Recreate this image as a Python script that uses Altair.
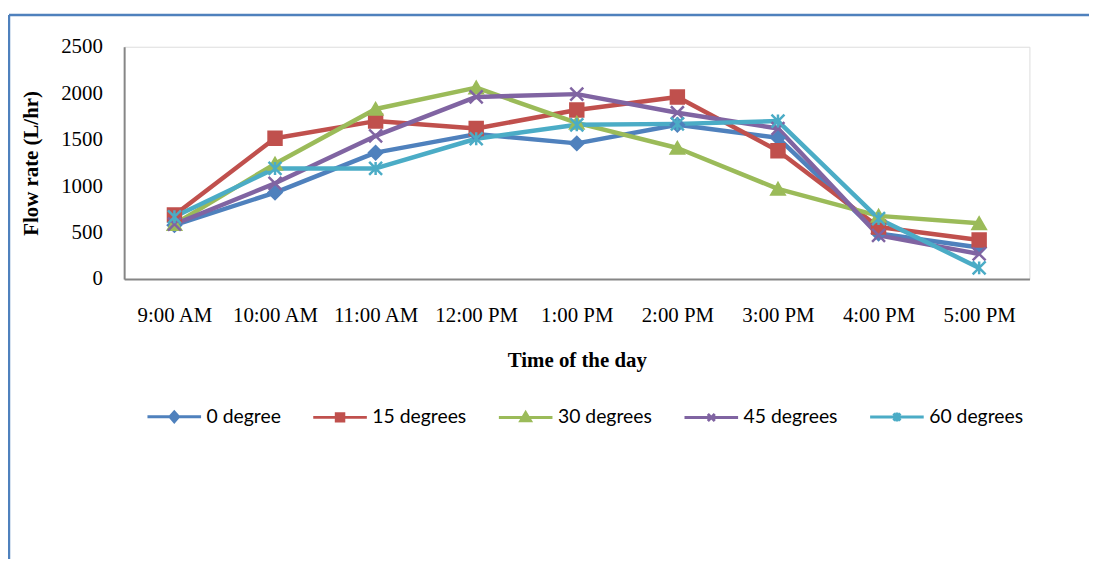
import altair as alt
import pandas as pd

times = ["9:00 AM", "10:00 AM", "11:00 AM", "12:00 PM", "1:00 PM",
         "2:00 PM", "3:00 PM", "4:00 PM", "5:00 PM"]
series = ["0 degree", "15 degrees", "30 degrees", "45 degrees", "60 degrees"]
deg0 = [580, 930, 1360, 1560, 1460, 1660, 1520, 490, 340]
deg15 = [690, 1515, 1700, 1620, 1820, 1960, 1380, 560, 420]
deg30 = [590, 1240, 1830, 2060, 1680, 1410, 970, 680, 600]
deg45 = [590, 1030, 1540, 1960, 1990, 1790, 1620, 470, 270]
deg60 = [670, 1190, 1190, 1510, 1660, 1670, 1700, 650, 120]
colors = ["#4F81BD", "#C0504D", "#9BBB59", "#8064A2", "#4BACC6"]
y_ticks = [0, 500, 1000, 1500, 2000, 2500]

rows = []
for name, vals in zip(series, [deg0, deg15, deg30, deg45, deg60]):
    for t, v in zip(times, vals):
        rows.append({"time": t, "series": name, "flow": v})
df = pd.DataFrame(rows)

X_PATH = "M-1,-1L1,1M-1,1L1,-1"
AST_PATH = "M-1,-1L1,1M-1,1L1,-1M0,-1L0,1"
shapes = ["diamond", "square", "triangle-up", X_PATH, AST_PATH]

leg_paths = [
    "M-1,0H1M0,-0.18L0.16,0L0,0.18L-0.16,0Z",
    "M-1,0H1M-0.14,-0.14H0.14V0.14H-0.14Z",
    "M-1,0H1M0,-0.18L0.18,0.12H-0.18Z",
    "M-1,0H1M-0.13,-0.13L0.13,0.13M-0.13,0.13L0.13,-0.13",
    "M-1,0H1M-0.13,-0.13L0.13,0.13M-0.13,0.13L0.13,-0.13M0,-0.17V0.17",
]

W, H = 912, 234
axis_common = dict(domainColor="#868686", domainWidth=2,
                   labelFont="Liberation Serif", labelFontSize=21, labelColor="black",
                   titleFont="Liberation Serif", titleFontSize=21,
                   titleFontWeight="bold", titleColor="black")
x_enc = alt.X("time:N", sort=times, scale=alt.Scale(type="point", padding=0.5),
              axis=alt.Axis(title="Time of the day", labelAngle=0, ticks=False,
                            labelPadding=26, titlePadding=24, **axis_common))
y_enc = alt.Y("flow:Q", scale=alt.Scale(domain=[0, 2500], nice=False),
              axis=alt.Axis(title="Flow rate (L/hr)", values=y_ticks, format="d",
                            grid=False, ticks=False, labelPadding=22,
                            titlePadding=19, **axis_common))


def cscale():
    return alt.Scale(domain=series, range=colors)


legend = alt.Legend(
    title=None, orient="none", direction="horizontal", columns=5,
    legendX=22, legendY=344, symbolSize=2916, symbolStrokeWidth=3,
    symbolOpacity=1,
    labelFont="Lato", labelFontSize=19.5, labelColor="black", labelOffset=4,
    columnPadding=26,
)

lines = alt.Chart(df).mark_line(strokeWidth=4.5, strokeJoin="round").encode(
    x=x_enc, y=y_enc,
    color=alt.Color("series:N", scale=cscale(), sort=series, legend=None),
    detail="series:N",
)
points = alt.Chart(df).mark_point(filled=True, size=170, strokeWidth=2.5, opacity=1).encode(
    x=x_enc, y=y_enc,
    color=alt.Color("series:N", scale=cscale(), sort=series, legend=None),
    stroke=alt.Stroke("series:N", scale=cscale(), sort=series, legend=None),
    shape=alt.Shape("series:N", scale=alt.Scale(domain=series, range=shapes),
                    sort=series, legend=None),
)
legend_layer = alt.Chart(df).transform_filter("datum.flow < 0").mark_point(
    filled=True, opacity=1).encode(
    x=x_enc, y=y_enc,
    color=alt.Color("series:N", scale=cscale(), sort=series, legend=legend),
    stroke=alt.Stroke("series:N", scale=cscale(), sort=series, legend=legend),
    shape=alt.Shape("series:N", scale=alt.Scale(domain=series, range=leg_paths),
                    sort=series, legend=legend),
)

frame_data = alt.Data(values=[{"k": 1}])
top_line = alt.Chart(frame_data).mark_rule(color="#4F81BD", strokeWidth=2.5).encode(
    x=alt.value(-116), x2=alt.value(W + 60), y=alt.value(-32))
left_line = alt.Chart(frame_data).mark_rule(color="#4F81BD", strokeWidth=2.5).encode(
    x=alt.value(-116), y=alt.value(-32), y2=alt.value(600))

chart = alt.layer(top_line, left_line, lines, points, legend_layer).resolve_scale(
    color="independent", stroke="independent", shape="independent"
).resolve_legend(
    color="independent", stroke="independent", shape="independent"
).properties(
    width=W, height=H,
    autosize=alt.AutoSizeParams(type="none"),
    padding={"left": 117, "top": 37, "right": 60, "bottom": 280},
).configure_view(stroke=None).configure(background="white")

chart.save("out.html", embed_options={"renderer": "svg", "actions": False})
